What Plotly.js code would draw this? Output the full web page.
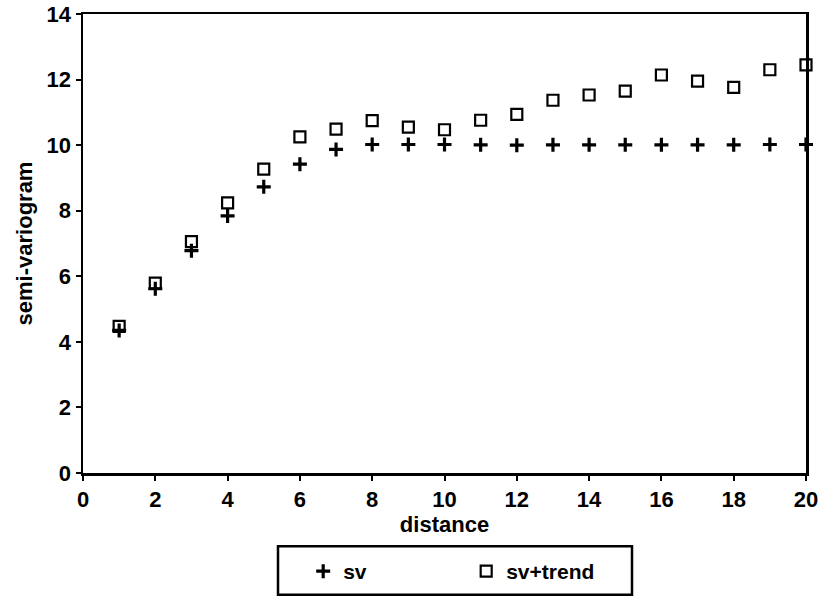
<!DOCTYPE html>
<html>
<head>
<meta charset="utf-8">
<script src="https://cdn.plot.ly/plotly-3.0.1.min.js"></script>
<style>html,body{margin:0;padding:0;background:#fff;}#chart{width:819px;height:604px;}</style>
</head>
<body>
<div id="chart"></div>
<script>
const distance = [1,2,3,4,5,6,7,8,9,10,11,12,13,14,15,16,17,18,19,20];
const sv = [4.35,5.62,6.78,7.84,8.73,9.42,9.87,10.02,10.02,10.02,10.01,10.0,10.01,10.01,10.01,10.01,10.01,10.01,10.02,10.02];
const svTrend = [4.47,5.79,7.06,8.24,9.27,10.25,10.49,10.75,10.55,10.47,10.76,10.94,11.37,11.53,11.65,12.14,11.95,11.76,12.3,12.45];
const xTicks = [0,2,4,6,8,10,12,14,16,18,20];
const yTicks = [0,2,4,6,8,10,12,14];

const FONT = 'Liberation Sans, Arial, Helvetica, sans-serif';

const traces = [
  {x: distance, y: sv, name: '<b>sv</b>', type: 'scatter', mode: 'markers', cliponaxis: false,
   marker: {symbol: 'cross-thin-open', size: 10, color: '#000', line: {color: '#000', width: 3.2}}},
  {x: distance, y: svTrend, name: '<b>sv+trend</b>', type: 'scatter', mode: 'markers', cliponaxis: false,
   marker: {symbol: 'square-open', size: 11, color: '#000', line: {color: '#000', width: 2.2}}}
];

const layout = {
  width: 819, height: 604,
  margin: {l: 83, r: 13, t: 14, b: 126},
  paper_bgcolor: '#fff', plot_bgcolor: '#fff',
  font: {family: FONT, size: 22, color: '#000'},
  showlegend: true,
  legend: {orientation: 'h', x: 0.53, xanchor: 'center', y: -0.17, yanchor: 'top',
           font: {family: FONT, size: 21, color: '#000'}, bgcolor: 'rgba(0,0,0,0)',
           borderwidth: 0, entrywidth: 118, itemclick: false},
  xaxis: {range: [0, 20], tickmode: 'array', tickvals: xTicks, ticktext: xTicks.map(v => '<b>' + v + '</b>'),
          ticks: 'outside', ticklen: 5, tickwidth: 2, tickcolor: '#000',
          showline: true, linewidth: 2.5, linecolor: '#000', mirror: true,
          showgrid: false, zeroline: false,
          tickfont: {family: FONT, size: 22, color: '#000'},
          title: {text: '<b>distance</b>', font: {family: FONT, size: 22, color: '#000'}, standoff: 4}},
  yaxis: {range: [0, 14], tickmode: 'array', tickvals: yTicks, ticktext: yTicks.map(v => '<b>' + v + '</b>'),
          ticks: 'outside', ticklen: 5, tickwidth: 2, tickcolor: '#000',
          showline: true, linewidth: 2.5, linecolor: '#000', mirror: true,
          showgrid: false, zeroline: false,
          tickfont: {family: FONT, size: 22, color: '#000'},
          title: {text: '<b>semi-variogram</b>', font: {family: FONT, size: 22, color: '#000'}, standoff: 8}},
  shapes: [
    {type: 'rect', xref: 'paper', yref: 'paper',
     x0: (278 - 83) / 723, x1: (632 - 83) / 723,
     y0: (478 - 601) / 464, y1: (478 - 552) / 464,
     line: {color: '#000', width: 2.5}, fillcolor: 'rgba(0,0,0,0)'}
  ]
};

Plotly.newPlot('chart', traces, layout, {displayModeBar: false, staticPlot: true});
</script>
</body>
</html>
